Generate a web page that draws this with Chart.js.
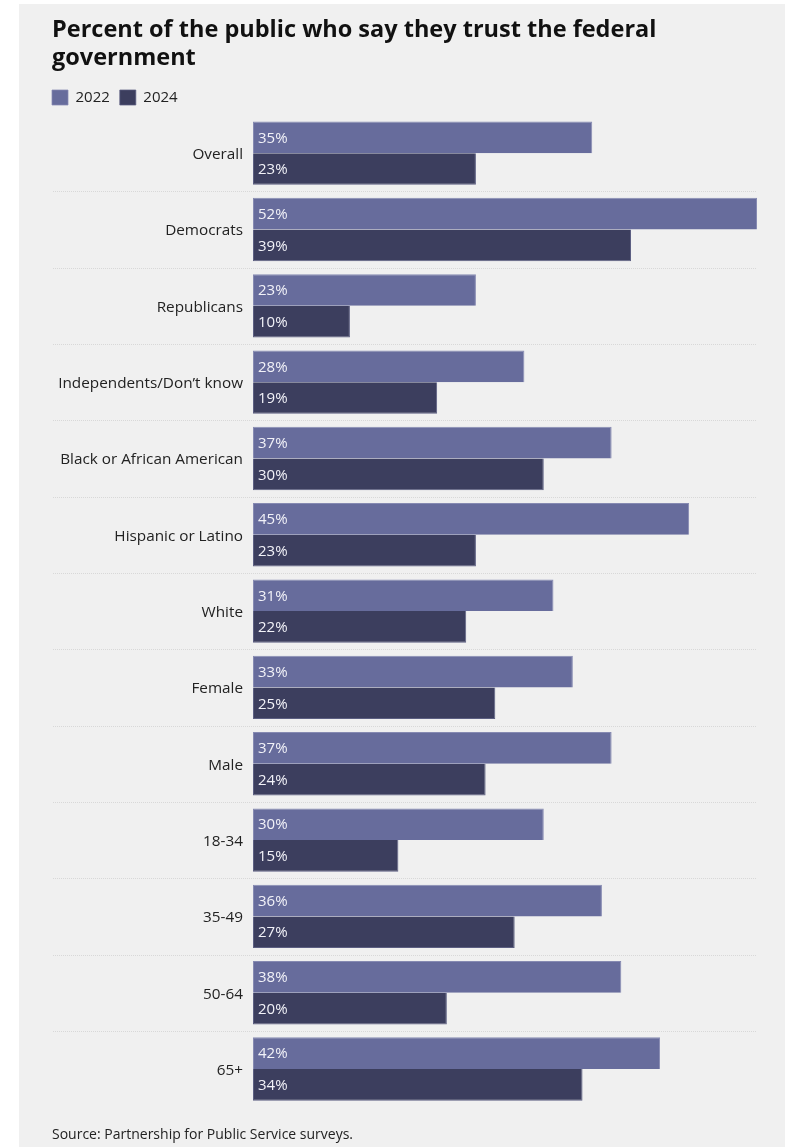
<!DOCTYPE html>
<html>
<head>
<meta charset="utf-8">
<script src="https://cdn.jsdelivr.net/npm/chart.js@4.4.1/dist/chart.umd.min.js"></script>
<style>
  html, body { margin: 0; padding: 0; background: #ffffff; }
  #panel { position: absolute; left: 19px; top: 4px; width: 766px; height: 1143px; background: #f0f0f0; }
  #wrap { position: absolute; left: 0; top: 0; width: 785px; height: 1147px; }
</style>
</head>
<body>
<div id="panel"></div>
<div id="wrap"><canvas id="c" width="785" height="1147"></canvas></div>
<script>
const categories = ['Overall', 'Democrats', 'Republicans', 'Independents/Don\u2019t know', 'Black or African American', 'Hispanic or Latino', 'White', 'Female', 'Male', '18-34', '35-49', '50-64', '65+'];
const values2022 = [35, 52, 23, 28, 37, 45, 31, 33, 37, 30, 36, 38, 42];
const values2024 = [23, 39, 10, 19, 30, 23, 22, 25, 24, 15, 27, 20, 34];
const seriesNames = ['2022', '2024'];
const titleLines = ['Percent of the public who say they trust the federal', 'government'];
const sourceText = 'Source: Partnership for Public Service surveys.';

const FONT = "'Open Sans', 'Liberation Sans', sans-serif";

const separatorPlugin = {
  id: 'separators',
  beforeDatasetsDraw(chart) {
    const y = chart.scales.y;
    const ctx = chart.ctx;
    ctx.save();
    ctx.strokeStyle = '#d8d8d8';
    ctx.lineWidth = 1;
    ctx.setLineDash([1, 1]);
    for (let i = 1; i < categories.length; i++) {
      const py = Math.round((y.getPixelForValue(i - 1) + y.getPixelForValue(i)) / 2) + 0.5;
      ctx.beginPath();
      ctx.moveTo(53, py);
      ctx.lineTo(chart.chartArea.right, py);
      ctx.stroke();
    }
    ctx.restore();
  }
};

const valueLabelPlugin = {
  id: 'valueLabels',
  afterDatasetsDraw(chart) {
    const ctx = chart.ctx;
    ctx.save();
    ctx.font = "15px " + FONT;
    ctx.fillStyle = '#f2f2f8';
    ctx.textAlign = 'left';
    ctx.textBaseline = 'middle';
    chart.data.datasets.forEach((ds, di) => {
      const meta = chart.getDatasetMeta(di);
      meta.data.forEach((bar, i) => {
        ctx.fillText(ds.data[i] + '%', bar.base + 5, bar.y + 1);
      });
    });
    ctx.restore();
  }
};

const legendShiftPlugin = {
  id: 'legendShift',
  afterLayout(chart) {
    if (chart.legend) {
      const p = chart.legend.options.labels.padding;
      chart.legend.left -= p;
      chart.legend.right -= p;
    }
  }
};

new Chart(document.getElementById('c'), {
  type: 'bar',
  data: {
    labels: categories,
    datasets: [
      { label: seriesNames[0], data: values2022, backgroundColor: '#676c9c', borderColor: '#868ab2',
        borderWidth: { top: 1, right: 1, bottom: 0, left: 1 }, borderSkipped: false },
      { label: seriesNames[1], data: values2024, backgroundColor: '#3c3e5e', borderColor: '#5c5f82',
        borderWidth: { top: 0, right: 1, bottom: 1, left: 1 }, borderSkipped: false }
    ]
  },
  options: {
    responsive: false,
    animation: false,
    indexAxis: 'y',
    layout: { padding: { left: 52, right: 28, top: 14, bottom: 0 } },
    datasets: { bar: { categoryPercentage: 0.83, barPercentage: 1.0 } },
    scales: {
      x: { display: false, min: 0, max: 52 },
      y: {
        grid: { display: false, drawTicks: false },
        border: { display: false },
        ticks: { color: '#222222', font: { family: FONT, size: 15.3 }, padding: 10, labelOffset: 1.5 },
        afterFit(scale) { scale.width = 201; }
      }
    },
    plugins: {
      title: {
        display: true,
        text: titleLines,
        align: 'start',
        color: '#111111',
        font: { family: FONT, size: 23.5, weight: 'bold', lineHeight: 1.2 },
        padding: { top: 2, bottom: 7.6 }
      },
      legend: {
        display: true,
        position: 'top',
        align: 'start',
        labels: {
          boxWidth: 16, boxHeight: 15, padding: 10,
          color: '#222222',
          font: { family: FONT, size: 15 }
        }
      },
      subtitle: {
        display: true,
        position: 'bottom',
        align: 'start',
        text: sourceText,
        color: '#222222',
        font: { family: FONT, size: 14, lineHeight: 1.2 },
        padding: { top: 19, bottom: 4 }
      },
      tooltip: { enabled: false }
    }
  },
  plugins: [separatorPlugin, valueLabelPlugin, legendShiftPlugin]
});
</script>
</body>
</html>
